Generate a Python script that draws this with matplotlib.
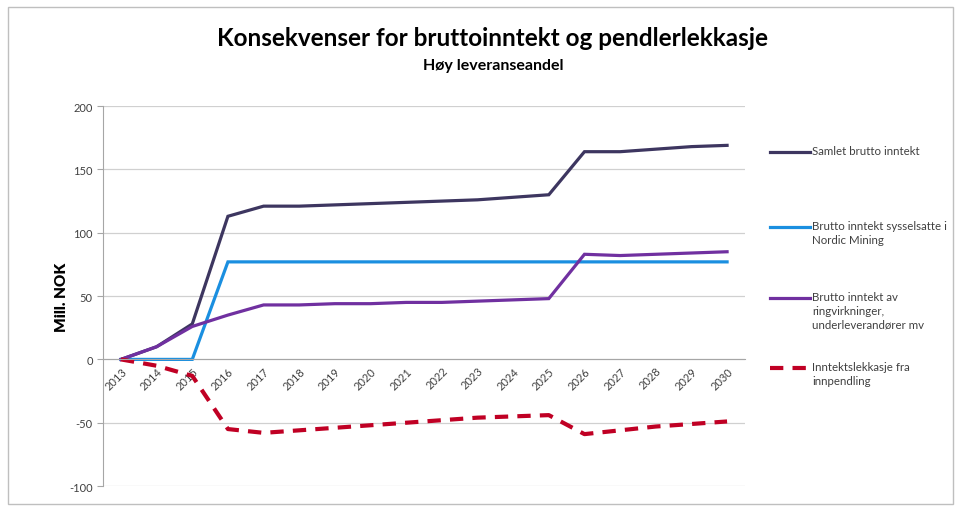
import matplotlib
matplotlib.use("Agg")
import matplotlib.pyplot as plt
from matplotlib.lines import Line2D
from matplotlib.patches import Rectangle

plt.rcParams['font.family'] = ['Lato', 'DejaVu Sans']
plt.rcParams['axes.unicode_minus'] = False

# data (Mill. NOK)
years = [str(y) for y in range(2013, 2031)]
samlet = [0, 10, 28, 113, 121, 121, 122, 123, 124, 125, 126, 128, 130, 164, 164, 166, 168, 169]
sysselsatte = [0, 0, 0, 77, 77, 77, 77, 77, 77, 77, 77, 77, 77, 77, 77, 77, 77, 77]
ringvirkninger = [0, 10, 26, 35, 43, 43, 44, 44, 45, 45, 46, 47, 48, 83, 82, 83, 84, 85]
lekkasje = [0, -5, -13, -55, -58, -56, -54, -52, -50, -48, -46, -45, -44, -59, -56, -53, -51, -49]

labels = [
    'Samlet brutto inntekt',
    'Brutto inntekt sysselsatte i\nNordic Mining',
    'Brutto inntekt av\nringvirkninger,\nunderleverandører mv',
    'Inntektslekkasje fra\ninnpendling',
]
colors = ['#3d3660', '#1a8fe0', '#7030a0', '#c00024']
styles = ['-', '-', '-', (0, (3.2, 2.2))]
series = [samlet, sysselsatte, ringvirkninger, lekkasje]

fig = plt.figure(figsize=(9.55, 5.1), dpi=100)
fig.patches.append(Rectangle((0.008, 0.01), 0.99, 0.975, transform=fig.transFigure,
                             fill=False, edgecolor='#bfbfbf', linewidth=1))

ax = fig.add_axes([0.108, 0.045, 0.672, 0.745])
x = list(range(len(years)))

for vals, c, ls in zip(series, colors, styles):
    lw = 3.0 if ls != '-' else 2.3
    ax.plot(x, vals, color=c, linestyle=ls, linewidth=lw, solid_joinstyle='miter')

ax.set_xlim(-0.5, len(years) - 0.5)
ax.set_ylim(-100, 200)
ax.set_yticks(range(-100, 201, 50))
ax.yaxis.grid(True, color='#d0d0d0', linewidth=0.9)
ax.set_axisbelow(True)

ax.spines['top'].set_visible(False)
ax.spines['right'].set_visible(False)
ax.spines['left'].set_color('#a6a6a6')
ax.spines['bottom'].set_position(('data', 0))
ax.spines['bottom'].set_color('#a6a6a6')

ax.set_xticks(x)
ax.set_xticklabels(years, rotation=45, ha='right', va='top', rotation_mode='anchor')
ax.tick_params(axis='x', length=0, pad=4, labelsize=8, labelcolor='#404040')
ax.tick_params(axis='y', length=4, color='#a6a6a6', labelsize=8, labelcolor='#404040')

ax.set_ylabel('Mill. NOK', fontsize=11, fontweight='heavy', labelpad=1)

fig.text(0.516, 0.925, 'Konsekvenser for bruttoinntekt og pendlerlekkasje',
         ha='center', va='center', fontsize=17.5, fontweight='bold')
fig.text(0.516, 0.87, 'Høy leveranseandel', ha='center', va='center',
         fontsize=11.5, fontweight='bold')

# legend drawn at the positions Excel used (handle next to first text line)
legend_y = [153, 228, 299, 369]
for lab, c, ls, yp in zip(labels, colors, styles, legend_y):
    yf = 1 - yp / 510
    lw = 3.0 if ls != '-' else 2.3
    fig.add_artist(Line2D([770 / 955, 810 / 955], [yf, yf], color=c, linestyle=ls,
                          linewidth=lw, transform=fig.transFigure))
    fig.text(812 / 955, yf + 7 / 510, lab, ha='left', va='top', fontsize=8.3,
             color='#404040', linespacing=1.3)

fig.savefig('out.png', dpi=100)
